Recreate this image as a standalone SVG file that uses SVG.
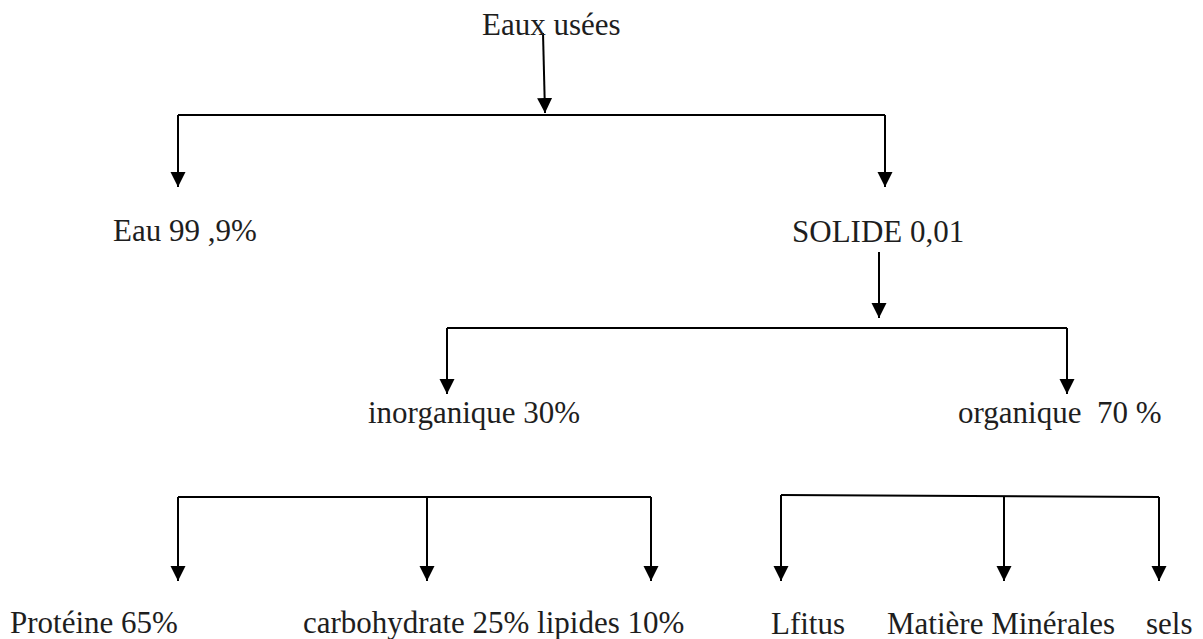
<svg xmlns="http://www.w3.org/2000/svg" width="1203" height="639" viewBox="0 0 1203 639">
<defs>
<marker id="arr" markerUnits="userSpaceOnUse" markerWidth="16" markerHeight="16" refX="15" refY="7.5" orient="auto">
<path d="M0,0 L15,7.5 L0,15 z" fill="#000"/>
</marker>
<style>
text{font-family:'Liberation Serif',serif;font-size:31px;fill:#1e1e1e;white-space:pre}
.c{stroke:#000;stroke-width:2;fill:none}
.a{marker-end:url(#arr)}
</style>
</defs>
<rect width="1203" height="639" fill="#fff"/>
<g id="connectors">
<path class="c a" d="M543,33 L545,113"/>
<path class="c" d="M178,115 H885"/>
<path class="c a" d="M178,115 V187"/>
<path class="c a" d="M885,115 V187"/>
<path class="c a" d="M879,252 V318"/>
<path class="c" d="M447,328 H1067"/>
<path class="c a" d="M447,328 V394"/>
<path class="c a" d="M1067,328 V394"/>
<path class="c" d="M178,497 H651"/>
<path class="c a" d="M178,497 V581"/>
<path class="c a" d="M427,497 V581"/>
<path class="c a" d="M651,497 V581"/>
<path class="c" d="M781,495 L1159,497"/>
<path class="c a" d="M781,495 V581"/>
<path class="c a" d="M1004,496 V581"/>
<path class="c a" d="M1159,497 V581"/>
</g>
<g id="n-eaux-usees"><text font-family="Liberation Serif" x="482" y="35">Eaux usées</text></g>
<g id="n-eau"><text font-family="Liberation Serif" x="113" y="241">Eau 99 ,9%</text></g>
<g id="n-solide"><text font-family="Liberation Serif" x="792" y="242">SOLIDE 0,01</text></g>
<g id="n-inorganique"><text font-family="Liberation Serif" x="368" y="423">inorganique 30%</text></g>
<g id="n-organique"><text font-family="Liberation Serif" x="958" y="423" xml:space="preserve">organique  70 %</text></g>
<g id="n-proteine"><text font-family="Liberation Serif" x="10" y="633">Protéine 65%</text></g>
<g id="n-carbo-lipides"><text font-family="Liberation Serif" x="303" y="633">carbohydrate 25% lipides 10%</text></g>
<g id="n-lfitus"><text font-family="Liberation Serif" x="771" y="634">Lfitus</text></g>
<g id="n-matiere"><text font-family="Liberation Serif" x="887" y="634">Matière Minérales</text></g>
<g id="n-sels"><text font-family="Liberation Serif" x="1146" y="634">sels</text></g>
</svg>
